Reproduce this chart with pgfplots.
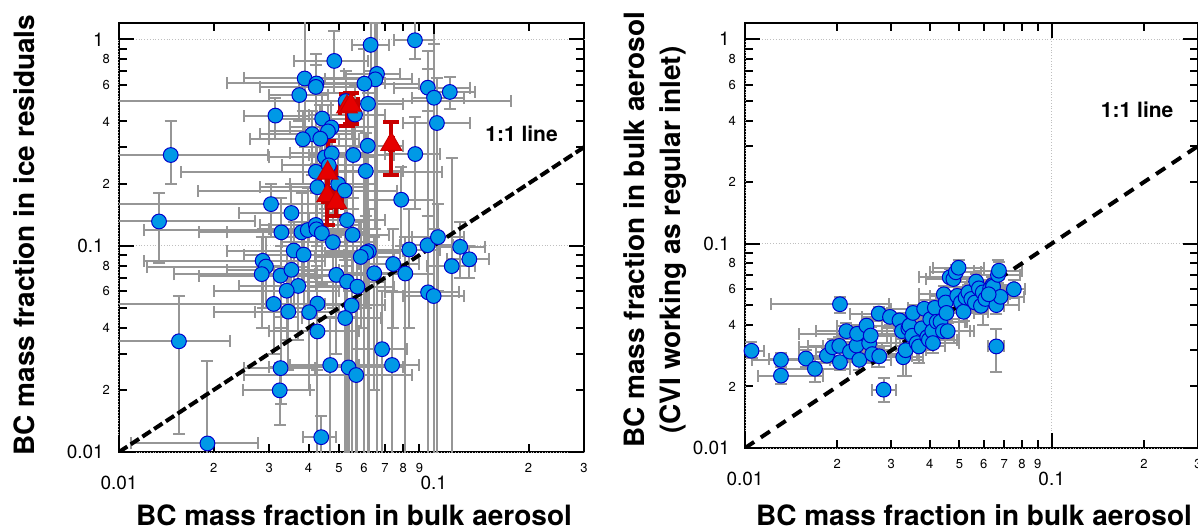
\documentclass[border=0pt]{standalone}
\usepackage{fontspec}
\setmainfont{TeX Gyre Heros}
\usepackage{pgfplots}
\pgfplotsset{compat=1.18}
\usepackage{pgfplotstable}

\definecolor{ptblue}{RGB}{0,153,230}
\definecolor{ptedge}{RGB}{0,0,205}
\definecolor{bargray}{RGB}{150,150,150}
\definecolor{tred}{RGB}{230,0,0}
\definecolor{tredd}{RGB}{200,0,0}

\pgfplotstableread{
x y xl xh yl yh
0.0871 0.99 0.075 0.100 0.80 1.25
0.0630 0.94 0.055 0.072 0.70 1.30
0.0483 0.786 0.036 0.062 0.55 1.10
0.066 0.68 0.052 0.078 0.009 1.30
0.0652 0.64 0.045 0.085 0.12 1.20
0.0602 0.61 0.040 0.090 0.009 0.90
0.0389 0.646 0.025 0.065 0.30 1.30
0.0424 0.611 0.022 0.070 0.25 0.85
0.0422 0.588 0.028 0.060 0.35 0.75
0.0374 0.537 0.030 0.046 0.40 0.65
0.0957 0.583 0.075 0.130 0.45 0.72
0.1002 0.521 0.085 0.125 0.009 0.95
0.1124 0.556 0.095 0.135 0.46 0.66
0.0618 0.487 0.050 0.080 0.10 0.65
0.0525 0.502 0.005 0.176 0.009 0.70
0.0562 0.432 0.040 0.070 0.30 0.60
0.0314 0.427 0.025 0.040 0.33 0.52
0.0442 0.413 0.030 0.060 0.25 0.55
0.0473 0.374 0.035 0.065 0.20 0.50
0.0461 0.358 0.030 0.060 0.24 0.48
0.0411 0.347 0.028 0.055 0.22 0.45
0.0384 0.328 0.026 0.050 0.20 0.45
0.0436 0.330 0.030 0.058 0.18 0.48
0.1023 0.393 0.080 0.130 0.009 0.65
0.0617 0.305 0.045 0.080 0.009 0.55
0.0555 0.275 0.040 0.075 0.15 0.42
0.0873 0.278 0.070 0.105 0.15 0.42
0.0146 0.275 0.009 0.0297 0.20 0.40
0.0451 0.268 0.030 0.065 0.15 0.38
0.0474 0.280 0.035 0.060 0.18 0.38
0.0608 0.230 0.045 0.080 0.12 0.35
0.0422 0.228 0.0157 0.106 0.12 0.35
0.0464 0.245 0.033 0.062 0.14 0.35
0.0427 0.192 0.028 0.060 0.10 0.30
0.0497 0.199 0.035 0.065 0.12 0.28
0.0521 0.185 0.0178 0.0765 0.10 0.27
0.0788 0.167 0.060 0.100 0.10 0.24
0.0304 0.159 0.009 0.0518 0.11 0.20
0.0134 0.131 0.009 0.0270 0.082 0.18
0.0353 0.144 0.024 0.048 0.09 0.20
0.0530 0.133 0.040 0.070 0.08 0.19
0.0328 0.116 0.022 0.046 0.07 0.17
0.0380 0.116 0.018 0.060 0.06 0.18
0.0398 0.119 0.012 0.055 0.05 0.19
0.0422 0.126 0.028 0.058 0.07 0.20
0.0424 0.120 0.030 0.062 0.06 0.18
0.0441 0.115 0.032 0.060 0.065 0.17
0.0552 0.113 0.040 0.072 0.06 0.17
0.0478 0.104 0.033 0.065 0.05 0.16
0.0955 0.1005 0.078 0.115 0.06 0.14
0.1031 0.110 0.085 0.125 0.06 0.16
0.1213 0.0987 0.100 0.145 0.07 0.13
0.0836 0.0958 0.065 0.105 0.04 0.15
0.0622 0.094 0.048 0.080 0.009 0.15
0.0610 0.0925 0.045 0.078 0.05 0.14
0.0586 0.0882 0.042 0.075 0.04 0.13
0.0359 0.0947 0.022 0.050 0.05 0.13
0.0386 0.0905 0.025 0.052 0.05 0.13
0.1297 0.0859 0.110 0.150 0.07 0.10
0.114 0.0796 0.095 0.135 0.009 0.265
0.0743 0.0815 0.058 0.090 0.04 0.12
0.0812 0.0733 0.065 0.100 0.009 0.11
0.0647 0.0735 0.050 0.080 0.02 0.11
0.0490 0.0722 0.035 0.065 0.03 0.11
0.0530 0.0670 0.035 0.070 0.009 0.10
0.0572 0.0633 0.040 0.075 0.009 0.10
0.0286 0.0845 0.012 0.045 0.05 0.12
0.0293 0.0792 0.0123 0.040 0.05 0.11
0.0284 0.0728 0.015 0.042 0.04 0.11
0.0326 0.0716 0.018 0.048 0.04 0.10
0.0353 0.0764 0.022 0.050 0.045 0.11
0.0371 0.0638 0.024 0.052 0.035 0.095
0.0341 0.0605 0.020 0.050 0.035 0.09
0.0310 0.0522 0.009 0.045 0.03 0.08
0.0427 0.0524 0.030 0.058 0.025 0.08
0.0548 0.0513 0.040 0.070 0.009 0.09
0.0345 0.0479 0.020 0.050 0.025 0.075
0.0402 0.0476 0.027 0.055 0.02 0.075
0.0523 0.0446 0.038 0.068 0.009 0.085
0.0427 0.0384 0.030 0.058 0.009 0.07
0.0959 0.0594 0.070 0.120 0.009 0.88
0.0999 0.0570 0.080 0.125 0.009 0.12
0.0155 0.0344 0.009 0.0225 0.0122 0.0569
0.0685 0.0315 0.055 0.082 0.009 0.06
0.0737 0.0264 0.058 0.090 0.009 0.06
0.0326 0.0255 0.025 0.042 0.0170 0.045
0.0469 0.0264 0.035 0.060 0.009 0.045
0.0536 0.0257 0.030 0.080 0.009 0.045
0.0567 0.0236 0.025 0.085 0.009 0.05
0.0324 0.0199 0.0248 0.0403 0.0135 0.027
0.0191 0.0110 0.0109 0.0277 0.008 0.0277
0.0439 0.0118 0.0384 0.0490 0.009 0.015
}\leftdata

\pgfplotstableread{
x y xl xh yl yh
0.0530 0.470 0.0505 0.0560 0.380 0.545
0.0545 0.480 0.0515 0.0575 0.390 0.550
0.0733 0.310 0.0725 0.0740 0.219 0.396
0.0460 0.225 0.0435 0.0490 0.170 0.320
0.0459 0.175 0.0445 0.0475 0.126 0.240
0.0490 0.162 0.0470 0.0510 0.140 0.190
}\reddata

\pgfplotstableread{
x y xl xh yl yh
0.0105 0.0299 0.009 0.0115 0.0275 0.033
0.0131 0.0270 0.0105 0.016 0.025 0.029
0.0131 0.0226 0.0110 0.018 0.0205 0.025
0.0158 0.0274 0.012 0.021 0.025 0.030
0.0169 0.0244 0.013 0.022 0.021 0.028
0.0185 0.0283 0.015 0.024 0.026 0.031
0.0193 0.0311 0.015 0.025 0.028 0.034
0.0203 0.0316 0.016 0.026 0.029 0.035
0.0204 0.0505 0.0122 0.0295 0.046 0.055
0.0204 0.0263 0.016 0.026 0.024 0.029
0.0214 0.0373 0.017 0.028 0.034 0.041
0.0220 0.0296 0.017 0.028 0.027 0.033
0.0231 0.0317 0.018 0.030 0.029 0.035
0.0232 0.0362 0.015 0.031 0.033 0.040
0.0236 0.0270 0.019 0.030 0.024 0.030
0.0249 0.0397 0.020 0.032 0.036 0.043
0.0254 0.0326 0.020 0.032 0.030 0.036
0.0257 0.0355 0.020 0.033 0.032 0.039
0.0260 0.0288 0.021 0.033 0.026 0.032
0.0274 0.0281 0.022 0.035 0.025 0.031
0.0273 0.0455 0.022 0.034 0.042 0.049
0.0297 0.0438 0.024 0.038 0.040 0.048
0.0283 0.0193 0.026 0.031 0.0167 0.022
0.0319 0.0421 0.026 0.040 0.038 0.046
0.0325 0.0373 0.026 0.041 0.034 0.041
0.0328 0.0278 0.028 0.038 0.0225 0.034
0.0334 0.0301 0.028 0.039 0.0225 0.036
0.0341 0.0385 0.028 0.042 0.035 0.042
0.0344 0.0397 0.029 0.042 0.036 0.044
0.0351 0.0354 0.029 0.043 0.032 0.039
0.0353 0.0458 0.029 0.044 0.042 0.050
0.0363 0.0326 0.030 0.045 0.027 0.038
0.0369 0.0314 0.031 0.045 0.026 0.036
0.0377 0.0385 0.031 0.046 0.035 0.043
0.0384 0.0480 0.030 0.047 0.044 0.053
0.0393 0.0349 0.032 0.048 0.031 0.039
0.0398 0.0338 0.033 0.049 0.030 0.038
0.0402 0.0427 0.033 0.050 0.039 0.047
0.0408 0.0373 0.034 0.050 0.034 0.041
0.0410 0.0326 0.034 0.050 0.029 0.036
0.0416 0.0485 0.034 0.051 0.044 0.053
0.0422 0.0415 0.035 0.052 0.038 0.046
0.0434 0.0415 0.036 0.053 0.038 0.046
0.0442 0.0373 0.036 0.054 0.034 0.041
0.0445 0.0565 0.037 0.055 0.051 0.062
0.0451 0.0515 0.037 0.055 0.047 0.057
0.0454 0.0458 0.037 0.056 0.042 0.050
0.0458 0.0373 0.038 0.056 0.034 0.041
0.0465 0.0684 0.037 0.057 0.062 0.075
0.0478 0.0671 0.039 0.058 0.061 0.074
0.0487 0.0724 0.040 0.059 0.066 0.079
0.0497 0.0762 0.041 0.060 0.069 0.083
0.0492 0.0555 0.040 0.060 0.050 0.061
0.0506 0.0515 0.042 0.061 0.047 0.057
0.0516 0.0464 0.043 0.062 0.042 0.051
0.0524 0.0545 0.043 0.063 0.050 0.060
0.0535 0.0577 0.044 0.064 0.052 0.063
0.0547 0.0536 0.045 0.066 0.049 0.059
0.0562 0.0515 0.046 0.067 0.047 0.057
0.0567 0.0652 0.047 0.068 0.059 0.071
0.0579 0.0604 0.048 0.069 0.055 0.066
0.0588 0.0496 0.049 0.070 0.045 0.054
0.0596 0.0577 0.049 0.071 0.040 0.063
0.0608 0.0536 0.050 0.072 0.049 0.059
0.0630 0.0604 0.052 0.074 0.055 0.066
0.0641 0.0626 0.053 0.075 0.057 0.069
0.0644 0.0616 0.053 0.076 0.056 0.068
0.0660 0.0500 0.055 0.078 0.045 0.055
0.0660 0.0314 0.062 0.070 0.0235 0.038
0.0668 0.0703 0.056 0.079 0.064 0.083
0.0673 0.0737 0.056 0.080 0.067 0.081
0.0681 0.0549 0.057 0.081 0.050 0.060
0.0753 0.0598 0.066 0.082 0.054 0.066
0.0623 0.0565 0.051 0.073 0.051 0.062
}\rightdata

\begin{document}
\begin{tikzpicture}
\useasboundingbox (0,0) rectangle (599pt,264.5pt);

\begin{axis}[xmode=log, ymode=log, scale only axis,
    xmin=0.01, xmax=0.3, ymin=0.01, ymax=1.2,
    axis line style={line width=1pt},
    major tick style={line width=1pt, black},
    minor tick style={line width=1pt, black},
    major tick length=4pt, minor tick length=4pt,
    xtick={0.02,0.03,0.04,0.05,0.06,0.07,0.08,0.09,0.2,0.3},
    xticklabels={2,3,4,5,6,7,8,9,2,3},
    ytick={0.02,0.04,0.06,0.08,0.2,0.4,0.6,0.8},
    yticklabels={2,4,6,8,2,4,6,8},
    minor ytick={0.03,0.05,0.07,0.09,0.3,0.5,0.7,0.9},
    extra x ticks={0.01,0.1},
    extra x tick labels={0.01,0.1},
    extra y ticks={0.01,0.1,1},
    extra y tick labels={0.01,0.1,1},
    tick label style={font=\fontsize{6.5}{7}\selectfont},
    xticklabel style={yshift=-2pt},
    yticklabel style={xshift=-1pt},
    extra x tick style={major tick length=7.5pt, grid=major,
      tick label style={font=\fontsize{9.5}{10}\selectfont, yshift=-6.3pt}},
    extra y tick style={major tick length=7.5pt, grid=major,
      tick label style={font=\fontsize{9.5}{10}\selectfont, xshift=-3.1pt}},
    major grid style={densely dotted, black!25, line width=0.5pt},
    at={(59.5pt,38.5pt)}, anchor=south west,
    width=232.5pt, height=214.5pt]
  \addplot[only marks, mark=none,
    error bars/.cd, x dir=both, x explicit, y dir=both, y explicit,
    error bar style={line width=1pt, bargray},
    error mark options={line width=1pt, bargray, mark size=3pt, rotate=90}]
    table[x=x, y=y,
    x error plus expr=\thisrow{xh}-\thisrow{x},
    x error minus expr=\thisrow{x}-\thisrow{xl},
    y error plus expr=\thisrow{yh}-\thisrow{y},
    y error minus expr=\thisrow{y}-\thisrow{yl}] {\leftdata};
  \addplot[only marks, mark=*, mark size=3.7pt,
    mark options={fill=ptblue, draw=ptedge, line width=0.5pt}] table[x=x, y=y] {\leftdata};
  \addplot[black, line width=2pt, dash pattern=on 5pt off 2pt] coordinates {(0.01,0.01) (0.3,0.3)};
  \addplot[only marks, mark=none,
    error bars/.cd, x dir=both, x explicit, y dir=both, y explicit,
    error bar style={line width=2pt, tredd},
    error mark options={line width=2pt, tredd, mark size=4pt, rotate=90}]
    table[x=x, y=y,
    x error plus expr=\thisrow{xh}-\thisrow{x},
    x error minus expr=\thisrow{x}-\thisrow{xl},
    y error plus expr=\thisrow{yh}-\thisrow{y},
    y error minus expr=\thisrow{y}-\thisrow{yl}] {\reddata};
  \addplot[only marks, mark=triangle*, mark size=6pt,
    mark options={fill=tred, draw=tredd, line width=0.5pt}] table[x=x, y=y] {\reddata};
  \node[font=\bfseries\fontsize{10.5}{12}\selectfont] at (axis cs:0.19,0.348) {1:1 line};
\end{axis}

\begin{axis}[xmode=log, ymode=log, scale only axis,
    xmin=0.01, xmax=0.3, ymin=0.01, ymax=1.2,
    axis line style={line width=1pt},
    major tick style={line width=1pt, black},
    minor tick style={line width=1pt, black},
    major tick length=4pt, minor tick length=4pt,
    xtick={0.02,0.03,0.04,0.05,0.06,0.07,0.08,0.09,0.2,0.3},
    xticklabels={2,3,4,5,6,7,8,9,2,3},
    ytick={0.02,0.04,0.06,0.08,0.2,0.4,0.6,0.8},
    yticklabels={2,4,6,8,2,4,6,8},
    minor ytick={0.03,0.05,0.07,0.09,0.3,0.5,0.7,0.9},
    extra x ticks={0.01,0.1},
    extra x tick labels={0.01,0.1},
    extra y ticks={0.01,0.1,1},
    extra y tick labels={0.01,0.1,1},
    tick label style={font=\fontsize{6.5}{7}\selectfont},
    xticklabel style={yshift=-2pt},
    yticklabel style={xshift=-1pt},
    extra x tick style={major tick length=7.5pt, grid=major,
      tick label style={font=\fontsize{9.5}{10}\selectfont, yshift=-6.3pt}},
    extra y tick style={major tick length=7.5pt, grid=major,
      tick label style={font=\fontsize{9.5}{10}\selectfont, xshift=-3.1pt}},
    major grid style={densely dotted, black!25, line width=0.5pt},
    at={(372.5pt,40.5pt)}, anchor=south west,
    width=226.5pt, height=212.5pt]
  \addplot[only marks, mark=none,
    error bars/.cd, x dir=both, x explicit, y dir=both, y explicit,
    error bar style={line width=1pt, bargray},
    error mark options={line width=1pt, bargray, mark size=3pt, rotate=90}]
    table[x=x, y=y,
    x error plus expr=\thisrow{xh}-\thisrow{x},
    x error minus expr=\thisrow{x}-\thisrow{xl},
    y error plus expr=\thisrow{yh}-\thisrow{y},
    y error minus expr=\thisrow{y}-\thisrow{yl}] {\rightdata};
  \addplot[black, line width=2pt, dash pattern=on 5.5pt off 4pt] coordinates {(0.01,0.01) (0.3,0.3)};
  \addplot[only marks, mark=*, mark size=3.7pt,
    mark options={fill=ptblue, draw=ptedge, line width=0.5pt}] table[x=x, y=y] {\rightdata};
  \node[font=\bfseries\fontsize{10.5}{12}\selectfont] at (axis cs:0.19,0.45) {1:1 line};
\end{axis}

\node[rotate=90, font=\bfseries\fontsize{14}{16}\selectfont] at (12pt,147pt) {BC mass fraction in ice residuals};
\node[rotate=90, font=\bfseries\fontsize{14}{16}\selectfont] at (317pt,149.5pt) {BC mass fraction in bulk aerosol};
\node[rotate=90, font=\bfseries\fontsize{14}{16}\selectfont] at (336.5pt,144.5pt) {(CVI working as regular inlet)};
\node[anchor=base, font=\bfseries\fontsize{14}{16}\selectfont] at (177pt,1.5pt) {BC mass fraction in bulk aerosol};
\node[anchor=base, font=\bfseries\fontsize{14}{16}\selectfont] at (487pt,1.5pt) {BC mass fraction in bulk aerosol};
\end{tikzpicture}
\end{document}
